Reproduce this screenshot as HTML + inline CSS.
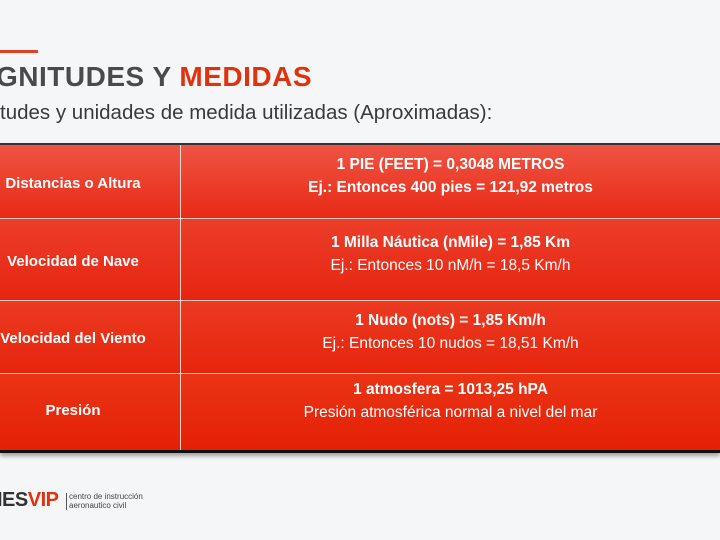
<!DOCTYPE html>
<html><head><meta charset="utf-8"><style>
body{margin:0;width:720px;height:540px;overflow:hidden;background:#f5f6f8;font-family:"Liberation Sans",sans-serif;position:relative}
.bar{position:absolute;left:0;top:50px;width:38px;height:3px;background:#e0401f}
.t{position:absolute;left:-4px;top:61px;font-size:28px;font-weight:bold;color:#4a4a4a;letter-spacing:0.5px;white-space:nowrap}
.t span{color:#e0320d}
.s{position:absolute;left:0;top:101px;font-size:20.5px;color:#3a3a3a;white-space:nowrap}
.tbl{position:absolute;left:0;top:143px;width:720px;height:305px;border-top:2px solid #333;border-bottom:3px solid #111;box-shadow:0 3px 4px rgba(0,0,0,.35)}
.r{position:absolute;left:0;width:720px;border-bottom:1px solid rgba(255,255,255,.7);color:#fff}
.r .a{position:absolute;left:0;width:146px;text-align:center;font-weight:bold;font-size:15px;white-space:nowrap}
.r .b{position:absolute;left:181px;right:0;text-align:center;font-size:15.5px;line-height:23px;white-space:nowrap}
.v{position:absolute;left:180px;top:0;height:305px;width:1px;background:rgba(255,255,255,.8)}
.logo{position:absolute;left:-3px;top:489px;font-size:20px;font-weight:bold;color:#333;letter-spacing:-0.5px}
.logo span{color:#e0320d}
.lt{position:absolute;left:66px;top:493px;font-size:8px;line-height:8.5px;color:#444;border-left:1px solid #555;padding-left:2px}
</style></head><body>
<div class="bar"></div>
<div class="t">GNITUDES Y <span>MEDIDAS</span></div>
<div class="s">tudes y unidades de medida utilizadas (Aproximadas):</div>
<div class="tbl">
<div class="r" style="top:0;height:73px;background:linear-gradient(#ef5444,#e82a15)"><div class="a" style="top:30px">Distancias o Altura</div><div class="b" style="top:8px"><b>1 PIE (FEET) = 0,3048 METROS</b><br><b>Ej.: Entonces 400 pies = 121,92 metros</b></div></div>
<div class="r" style="top:74px;height:81px;background:linear-gradient(#ec3e2a,#e62510)"><div class="a" style="top:34px">Velocidad de Nave</div><div class="b" style="top:12px"><b>1 Milla Náutica (nMile) = 1,85 Km</b><br>Ej.: Entonces 10 nM/h = 18,5 Km/h</div></div>
<div class="r" style="top:156px;height:72px;background:linear-gradient(#eb3a22,#e6250c)"><div class="a" style="top:29px">Velocidad del Viento</div><div class="b" style="top:8px"><b>1 Nudo (nots) = 1,85 Km/h</b><br>Ej.: Entonces 10 nudos = 18,51 Km/h</div></div>
<div class="r" style="top:229px;height:76px;border:none;background:linear-gradient(#ea3416,#e42005)"><div class="a" style="top:28px">Presión</div><div class="b" style="top:4px"><b>1 atmosfera = 1013,25 hPA</b><br>Presión atmosférica normal a nivel del mar</div></div>
<div class="v"></div>
</div>
<div class="logo">IES<span>VIP</span></div>
<div class="lt">centro de instrucción<br>aeronautico civil</div>
</body></html>
